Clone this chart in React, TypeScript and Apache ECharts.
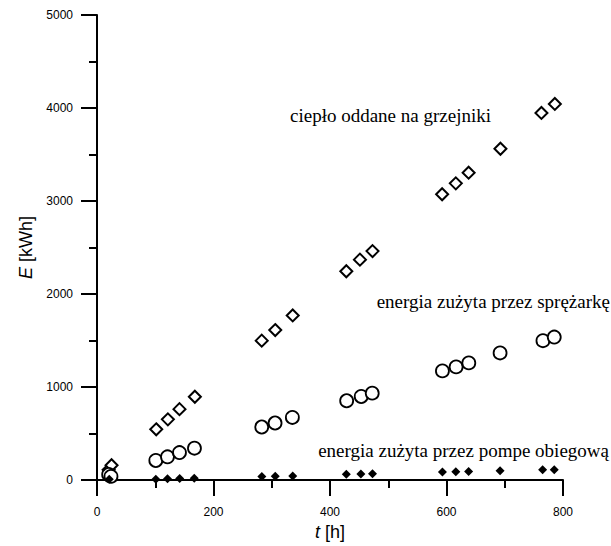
import React, { useEffect, useRef } from "react";
import * as echarts from "echarts";

// t [h] and E [kWh]
const heatT = [20, 25, 101.7, 121.7, 141.6, 168, 282.8, 306, 336, 428, 451.4, 473, 592.5, 616, 638, 692.6, 763, 786];
const heatE = [110, 160, 546, 653, 763, 896, 1499, 1613, 1770, 2245, 2370, 2462, 3073, 3190, 3305, 3562, 3947, 4044];

const compT = [20, 24, 101, 121, 141.6, 167.3, 282.8, 305.7, 335.4, 428.6, 453.6, 472.5, 593, 616.5, 638.3, 692, 765.6, 785];
const compE = [60, 40, 211, 250, 296, 343, 571, 614, 674, 853, 899, 935, 1174, 1217, 1260, 1367, 1499, 1538];

const pumpT = [21, 101, 121, 142, 167, 283, 306, 336, 428, 453, 473, 593, 616, 638, 692, 765, 785];
const pumpE = [10, 10, 14, 17, 21, 38, 41, 45, 62, 66, 69, 86, 89, 93, 100, 110, 112];

const xTicks = [0, 200, 400, 600, 800];
const yTicks = [0, 1000, 2000, 3000, 4000, 5000];

const labelHeat = "ciepło oddane na grzejniki";
const labelComp = "energia zużyta przez sprężarkę";
const labelPump = "energia zużyta przez pompe obiegową";

const zip = (a: number[], b: number[]) => a.map((v, i) => [v, b[i]]);

export default function App() {
  const ref = useRef<HTMLDivElement>(null);
  useEffect(() => {
    if (!ref.current) return;
    const chart = echarts.init(ref.current, null, { renderer: "svg" });
    const axisCommon = {
      axisLine: { show: true, onZero: false, lineStyle: { color: "#000", width: 2 } },
      axisTick: { show: true, inside: false, length: 16, lineStyle: { color: "#000", width: 2 } },
      minorTick: { show: true, splitNumber: 2, length: 8, lineStyle: { color: "#000", width: 2 } },
      splitLine: { show: false },
    };
    const fmt = (v: number) => String(v);
    chart.setOption({
      animation: false,
      backgroundColor: "#fff",
      grid: { left: 97, right: 48, top: 15, bottom: 64, containLabel: false },
      xAxis: {
        type: "value",
        min: xTicks[0],
        max: xTicks[xTicks.length - 1],
        interval: 200,
        ...axisCommon,
        axisLabel: { margin: 26, color: "#000", fontSize: 12, fontFamily: "Liberation Sans", formatter: fmt },
        name: "{i|t} [h]",
        nameLocation: "middle",
        nameGap: 42,
        nameTextStyle: {
          color: "#000",
          fontSize: 18,
          fontFamily: "Liberation Sans",
          rich: { i: { fontStyle: "italic", fontSize: 18, fontFamily: "Liberation Sans", color: "#000" } },
        },
      },
      yAxis: {
        type: "value",
        min: yTicks[0],
        max: yTicks[yTicks.length - 1],
        interval: 1000,
        ...axisCommon,
        axisLabel: { margin: 24, color: "#000", fontSize: 12, fontFamily: "Liberation Sans", formatter: fmt },
        name: "{i|E} [kWh]",
        nameLocation: "middle",
        nameRotate: 90,
        nameGap: 56,
        nameTextStyle: {
          color: "#000",
          fontSize: 18,
          fontFamily: "Liberation Sans",
          rich: { i: { fontStyle: "italic", fontSize: 18, fontFamily: "Liberation Sans", color: "#000" } },
        },
      },
      series: [
        {
          type: "scatter",
          data: zip(heatT, heatE),
          symbol: "diamond",
          symbolSize: [12, 12],
          itemStyle: { color: "#fff", borderColor: "#000", borderWidth: 2, opacity: 1 },
        },
        {
          type: "scatter",
          data: zip(compT, compE),
          symbol: "circle",
          symbolSize: 13,
          itemStyle: { color: "#fff", borderColor: "#000", borderWidth: 1.8, opacity: 1 },
        },
        {
          type: "scatter",
          data: zip(pumpT, pumpE),
          symbol: "diamond",
          symbolSize: [9, 9],
          itemStyle: { color: "#000", opacity: 1 },
        },
      ],
      graphic: [
        {
          type: "text",
          x: 290,
          y: 115,
          style: { text: labelHeat, font: "19px 'Liberation Serif'", fill: "#000", textAlign: "left", textVerticalAlign: "middle" },
        },
        {
          type: "text",
          x: 610,
          y: 301,
          style: { text: labelComp, font: "19px 'Liberation Serif'", fill: "#000", textAlign: "right", textVerticalAlign: "middle" },
        },
        {
          type: "text",
          x: 609,
          y: 450,
          style: { text: labelPump, font: "19px 'Liberation Serif'", fill: "#000", textAlign: "right", textVerticalAlign: "middle" },
        },
      ],
    });
    return () => chart.dispose();
  }, []);
  return <div ref={ref} style={{ width: 611, height: 546, position: "absolute", left: 0, top: 0 }} />;
}
